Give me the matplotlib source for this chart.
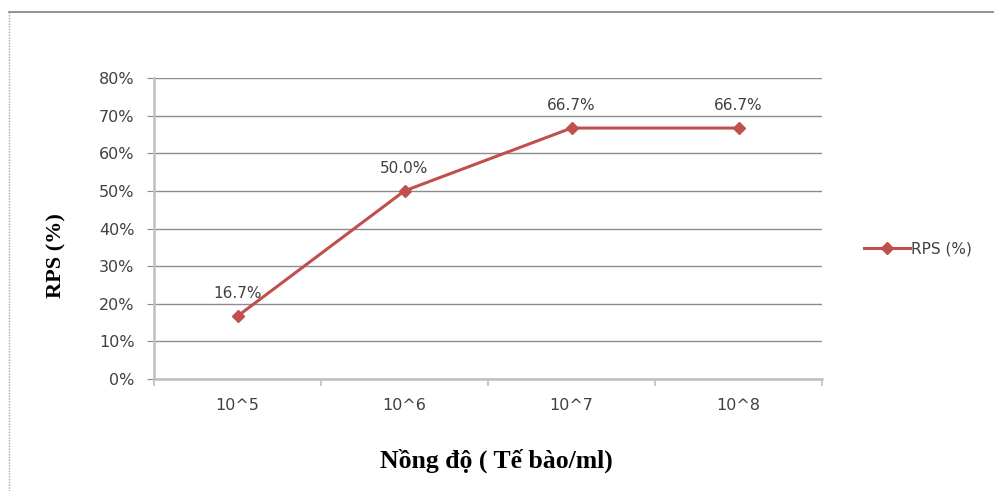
import matplotlib
matplotlib.use("Agg")
import matplotlib.pyplot as plt
from matplotlib.lines import Line2D
import numpy as np

# data
categories = ["10^5", "10^6", "10^7", "10^8"]
rps_values = [16.7, 50.0, 66.7, 66.7]
series_name = "RPS (%)"
y_ticks = [0, 10, 20, 30, 40, 50, 60, 70, 80]

LINE_COLOR = "#C0504D"
GRID_COLOR = "#8C8C8C"
AXIS_COLOR = "#BFBFBF"
TEXT_COLOR = "#404040"

fig = plt.figure(figsize=(9.94, 4.91), dpi=100)
ax = fig.add_axes([154 / 994, 1 - 379 / 491, 668 / 994, 301 / 491])

x = np.arange(len(categories))
ax.plot(x, rps_values, color=LINE_COLOR, linewidth=2.2, marker="D",
        markersize=6, label=series_name, solid_joinstyle="round")

for xi, v in zip(x, rps_values):
    ax.annotate(f"{v:.1f}%", (xi, v), xytext=(0, 11), textcoords="offset points",
                ha="center", va="bottom", fontsize=11, color=TEXT_COLOR,
                family="DejaVu Sans")

ax.set_xlim(-0.5, len(categories) - 0.5)
ax.set_ylim(0, 80)
ax.set_yticks(y_ticks)
ax.set_yticklabels([f"{t}%" for t in y_ticks])
ax.set_xticks(x)
ax.set_xticklabels(categories)
ax.set_xticks(np.arange(len(categories) + 1) - 0.5, minor=True)

ax.grid(axis="y", color=GRID_COLOR, linewidth=1.0)
ax.set_axisbelow(True)
for s in ["top", "right"]:
    ax.spines[s].set_visible(False)
ax.spines["left"].set_color(AXIS_COLOR)
ax.spines["left"].set_linewidth(1.8)
ax.spines["bottom"].set_color(AXIS_COLOR)
ax.spines["bottom"].set_linewidth(1.8)

ax.tick_params(axis="y", length=5, color=GRID_COLOR, labelsize=11.5,
               labelcolor=TEXT_COLOR, pad=9)
ax.tick_params(axis="x", which="major", length=0, labelsize=11.5,
               labelcolor=TEXT_COLOR, pad=14)
ax.tick_params(axis="x", which="minor", length=5, color=AXIS_COLOR, width=1.2)

ax.set_ylabel("RPS (%)", family="Liberation Serif", fontweight="bold",
              fontsize=16, va="center")
ax.yaxis.set_label_coords((56 - 154) / 668, (379 - 256) / 301)
ax.set_xlabel("Nồng độ ( Tế bào/ml)", family="Liberation Serif",
              fontweight="bold", fontsize=18.5, va="center")
ax.xaxis.set_label_coords((496 - 154) / 668, (379 - 461) / 301)

fig.legend(loc="center left", bbox_to_anchor=(850 / 994, 1 - 249 / 491),
           frameon=False, fontsize=11, handlelength=3.0, handletextpad=0.1,
           labelcolor=TEXT_COLOR)

# chart area border
fig.add_artist(Line2D([9 / 994, 1], [1 - 12 / 491] * 2, transform=fig.transFigure,
                      color="#7F7F7F", linewidth=1.2))
fig.add_artist(Line2D([9 / 994] * 2, [0, 1 - 12 / 491], transform=fig.transFigure,
                      color="#A6A6A6", linewidth=1.0, linestyle=(0, (1, 1))))

fig.savefig("out.png", dpi=100)
